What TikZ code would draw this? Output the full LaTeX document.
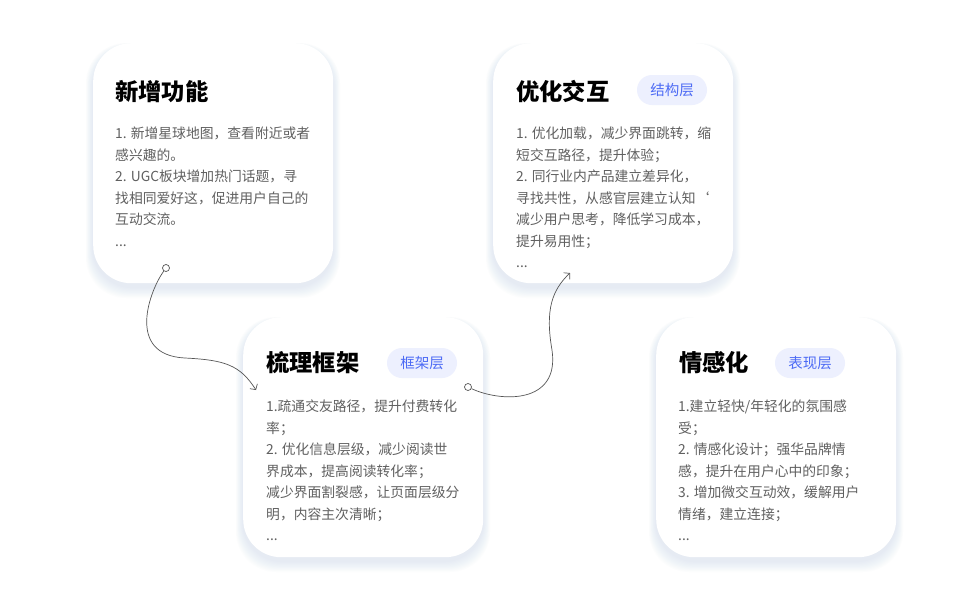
\documentclass[tikz,border=0pt]{standalone}
\usepackage{fontspec}
\setmainfont{Noto Sans CJK SC}
\newfontfamily\titlefont{Noto Sans CJK SC Black}
\usetikzlibrary{arrows.meta}
\definecolor{bodygray}{HTML}{606060}
\definecolor{badgefill}{HTML}{EDF0FE}
\definecolor{badgetext}{HTML}{4D6BF5}
\definecolor{shadowc}{HTML}{B8C8E0}
\definecolor{linec}{HTML}{555555}
\tikzset{
  cardbox/.style={fill=white, rounded corners=38pt, minimum width=240pt, minimum height=240pt, inner sep=0pt, anchor=north west},
  titletext/.style={anchor=west, inner sep=0pt, font=\titlefont\fontsize{23.3}{28}\selectfont, text=black},
  badge/.style={fill=badgefill, rounded corners=15pt, minimum width=70pt, minimum height=30pt, inner sep=0pt, text=badgetext, font=\fontsize{14.5}{16}\selectfont},
  bodytext/.style={anchor=north west, align=left, inner sep=0pt, text=bodygray, font=\fontsize{13.8}{21.5}\selectfont},
  conn/.style={draw=linec, line width=0.7pt, -{Straight Barb[length=4pt,width=9pt]}},
  dotc/.style={circle, draw=linec, fill=white, minimum size=7pt, inner sep=0pt, line width=0.7pt}
}
\begin{document}
\begin{tikzpicture}[x=1pt,y=-1pt]
\useasboundingbox (0,0) rectangle (960,600);
\fill[white] (0,0) rectangle (960,600);
% shadows
\foreach \x/\y in {93/43,493/43,243/317,656/317}{
  \foreach \i in {1,...,10}{
    \fill[shadowc, opacity=0.035, rounded corners=40pt]
      (\x-\i*0.7, \y+4-\i*0.4) rectangle (\x+240+\i*0.7, \y+244+\i*1.1);
  }
}
% cards
\node[cardbox] (c1) at (93,43) {};
\node[cardbox] (c2) at (493,43) {};
\node[cardbox] (c3) at (243,317) {};
\node[cardbox] (c4) at (656,317) {};
% titles
\node[titletext] (t1) at (115,92) {新增功能};
\node[titletext] (t2) at (516,92) {优化交互};
\node[titletext] (t3) at (266,363) {梳理框架};
\node[titletext] (t4) at (679,363) {情感化};
% badges
\node[badge] (b2) at (672,90) {结构层};
\node[badge] (b3) at (422,363) {框架层};
\node[badge] (b4) at (810,363) {表现层};
% bodies
\node[bodytext] (d1) at (115,127) {1. 新增星球地图，查看附近或者\\感兴趣的。\\2. UGC板块增加热门话题，寻\\找相同爱好这，促进用户自己的\\互动交流。\\...};
\node[bodytext] (d2) at (516,127) {1. 优化加载，减少界面跳转，缩\\短交互路径，提升体验；\\2. 同行业内产品建立差异化，\\寻找共性，从感官层建立认知‘\\减少用户思考，降低学习成本，\\提升易用性；\\...};
\node[bodytext] (d3) at (266,400) {1.疏通交友路径，提升付费转化\\率；\\2. 优化信息层级，减少阅读世\\界成本，提高阅读转化率；\\减少界面割裂感，让页面层级分\\明，内容主次清晰；\\...};
\node[bodytext] (d4) at (678,400) {1.建立轻快/年轻化的氛围感\\受；\\2. 情感化设计；强华品牌情\\感，提升在用户心中的印象；\\3. 增加微交互动效，缓解用户\\情绪，建立连接；\\...};
% connectors
\node[dotc] (s1) at (166,268) {};
\coordinate (e1) at (256,390);
\draw[conn] (s1) .. controls (150,290) and (125,355) .. (185,358) .. controls (225,360) and (240,365) .. (e1);
\node[dotc] (s2) at (468,387) {};
\coordinate (e2) at (570,273);
\draw[conn] (s2) .. controls (500,402) and (560,405) .. (552,350) .. controls (545,310) and (552,290) .. (e2);
\end{tikzpicture}
\end{document}
